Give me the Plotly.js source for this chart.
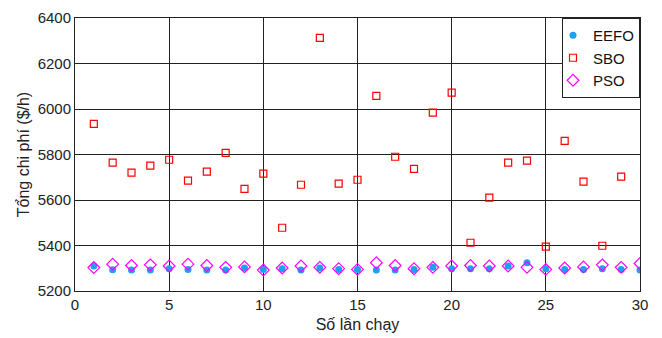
<!DOCTYPE html>
<html>
<head>
<meta charset="utf-8">
<script src="https://cdn.plot.ly/plotly-3.0.1.min.js"></script>
<style>html,body{margin:0;padding:0;background:#fff;}#chart{width:662px;height:338px;}</style>
</head>
<body>
<div id="chart"></div>
<script>
const runs = [1,2,3,4,5,6,7,8,9,10,11,12,13,14,15,16,17,18,19,20,21,22,23,24,25,26,27,28,29,30];
const eefo = [5310,5293,5292,5292,5298,5294,5292,5292,5301,5295,5298,5292,5301,5295,5295,5292,5292,5295,5304,5298,5298,5298,5310,5324,5298,5295,5295,5298,5295,5292];
const sbo = [5935,5764,5720,5751,5777,5685,5725,5807,5649,5716,5478,5667,6313,5672,5689,6058,5790,5737,5984,6072,5412,5610,5764,5773,5395,5860,5681,5399,5703,6146];
const pso = [5303,5318,5312,5315,5310,5318,5312,5304,5306,5292,5301,5310,5304,5298,5295,5324,5312,5298,5304,5310,5312,5310,5310,5304,5295,5301,5306,5315,5304,5321];
const xTicks = [0,5,10,15,20,25,30];
const yTicks = [5200,5400,5600,5800,6000,6200,6400];

const traces = [
  {x: runs, y: eefo, name: 'EEFO', type: 'scatter', mode: 'markers',
   marker: {symbol: 'circle', size: 7, color: '#1ea0f5'}},
  {x: runs, y: sbo, name: 'SBO', type: 'scatter', mode: 'markers',
   marker: {symbol: 'square-open', size: 7, color: '#ff0000', line: {width: 1.2, color: '#ff0000'}}},
  {x: runs, y: pso, name: 'PSO', type: 'scatter', mode: 'markers',
   marker: {symbol: 'diamond-open', size: 9, color: '#ff00ff', line: {width: 1.2, color: '#ff00ff'}}}
];

const layout = {
  width: 662, height: 338,
  margin: {l: 75, r: 22, t: 18, b: 47},
  paper_bgcolor: '#fff', plot_bgcolor: '#fff',
  font: {family: 'Liberation Sans, Arial, sans-serif', size: 15, color: '#222'},
  showlegend: true,
  legend: {x: 1, y: 1, xanchor: 'right', yanchor: 'top', bgcolor: '#fff',
           bordercolor: '#222', borderwidth: 1, font: {size: 15, color: '#111'},
           tracegroupgap: 0, itemwidth: 30, indentation: -10},
  xaxis: {range: [0, 30], tickvals: xTicks, ticktext: xTicks.map(String),
          showgrid: true, gridcolor: '#222', gridwidth: 1, zeroline: false,
          showline: true, linecolor: '#222', linewidth: 1, mirror: 'ticks',
          ticks: 'inside', ticklen: 4, tickcolor: '#222',
          title: {text: 'Số lần chạy', font: {size: 16, color: '#222'}, standoff: 6}},
  yaxis: {range: [5200, 6400], tickvals: yTicks, ticktext: yTicks.map(String),
          showgrid: true, gridcolor: '#222', gridwidth: 1, zeroline: false,
          showline: true, linecolor: '#222', linewidth: 1, mirror: 'ticks',
          ticks: 'inside', ticklen: 4, tickcolor: '#222',
          title: {text: 'Tổng chi phí ($/h)', font: {size: 16, color: '#222'}, standoff: 4}}
};

Plotly.newPlot('chart', traces, layout, {displayModeBar: false, staticPlot: true});
</script>
</body>
</html>
